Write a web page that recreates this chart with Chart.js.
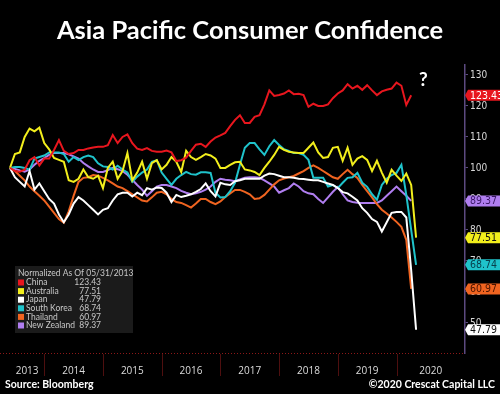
<!DOCTYPE html>
<html>
<head>
<meta charset="utf-8">
<script src="https://cdn.jsdelivr.net/npm/chart.js@4.4.1/dist/chart.umd.min.js"></script>
<style>
  html, body { margin: 0; padding: 0; background: #000; }
  #wrap { width: 500px; height: 394px; position: relative; }
</style>
</head>
<body>
<div id="wrap"><canvas id="chart"></canvas></div>
<script>
// monthly readings, normalized to 100 as of 05/31/2013, first point Jun 2013
const china = [100, 99, 98.8, 99.4, 102.5, 103.5, 100.8, 103, 103, 105.8,
  109, 105.5, 104.5, 104.8, 105.8, 105.8, 106.3, 106.6, 106.8, 106.8,
  107.3, 110.6, 108, 110, 110.8, 108, 106.2, 105.8, 106.4, 105.5,
  105.2, 105.2, 105.6, 105, 102.2, 102.5, 103.3, 105.5, 107.5, 107.8,
  106.8, 108.5, 109.8, 110.5, 111.3, 113.5, 115.5, 117, 114.5, 114.5,
  116.5, 117, 120.5, 125, 123.2, 123.5, 124, 125, 123.8, 123.9,
  123.5, 119.7, 120.7, 120, 120, 120.5, 122.5, 124, 125, 127,
  125.6, 126.5, 125.2, 126.7, 125, 123.5, 124.7, 125.2, 125.6, 127.5,
  126.5, 120.3, 123.43];
const australia = [100, 104.5, 105, 110, 112.7, 111.8, 113, 108, 106, 103.2,
  102.6, 102, 96, 95.5, 96.5, 99.5, 97, 96.5, 97.5, 93.5,
  100, 102, 96.5, 99, 104.8, 96, 98.5, 102, 96.5, 101.5,
  102.5, 99.5, 101, 103.5, 102, 98.7, 105.5, 103.5, 102.6, 103.5,
  104.5, 104, 103, 100, 100, 101, 101.8, 102, 99.5, 99.2,
  98.7, 97.7, 100, 102, 104.2, 106.8, 105.8, 105.2, 105, 104.8,
  104.8, 106.5, 108.2, 105, 103.2, 103.5, 106.5, 106.8, 102.3, 106.5,
  101, 103, 103.8, 102.6, 99, 102.3, 98.5, 95.2, 99.4, 97.5,
  95.8, 98.2, 94.5, 77.51];
const japan = [100, 97, 95.5, 94, 99, 93, 95, 92.5, 90, 88.5,
  85, 82.5, 85, 88.5, 90.6, 89.5, 88, 86.5, 85, 86.5,
  87, 89.5, 91.5, 92, 92, 90.8, 92, 91.2, 93.5, 93,
  93.7, 93.5, 92, 89, 91.3, 90.6, 91, 91.5, 92.3, 93.2,
  95, 92.5, 90.8, 95.2, 94.7, 94.5, 95.7, 96, 96.5, 96.5,
  96.5, 96.5, 97.5, 98.2, 98, 97.5, 97, 97, 96.8, 96.5,
  96.4, 96.2, 96, 96, 95.5, 95, 94.5, 93.5, 92.2, 91.8,
  90.7, 89.5, 87, 85.5, 83.5, 82.6, 79.5, 82.5, 85.5, 85.8,
  85.8, 84, 67, 47.79];
const southKorea = [100, 100.3, 100.3, 100, 99.4, 103, 103.5, 104, 105, 105,
  105, 104.5, 102, 103.5, 102.5, 103.5, 104, 103.5, 101.5, 100.5,
  100.3, 99.5, 100.7, 99.5, 98.5, 95.5, 97.2, 98.5, 99.5, 102,
  102.5, 98.5, 96.5, 94.5, 96.5, 97.7, 98.7, 98, 97.8, 98.6,
  98.6, 98.4, 92, 90.5, 90.6, 92.5, 95.2, 101, 106.5, 108,
  108, 106, 104.2, 107, 109, 107.4, 106, 105.5, 104.8, 104.8,
  104.2, 102.6, 96.8, 96.8, 96.8, 94, 94.5, 93.5, 95.2, 96.8,
  97, 98.4, 95.2, 93.9, 91.5, 89.7, 94.5, 96.5, 97.7, 98.4,
  101, 91.3, 80, 68.74];
const thailand = [100, 99, 97.5, 96, 94, 92.5, 91, 89.5, 87.5, 85.5,
  83.5, 82.3, 86, 91, 95.5, 96.8, 97, 97.7, 97.5, 96.8,
  96, 95, 94, 93.5, 92.5, 91.5, 90.5, 89.5, 89.2, 90.5,
  92, 92.3, 91.5, 90, 89, 88.7, 88, 87.2, 88.5, 90,
  90, 89, 88.3, 89.2, 90.6, 91.8, 92.9, 92.9, 92.3, 91.5,
  90, 90.2, 91.3, 93, 94.7, 96, 96.6, 97, 97.4, 98.2,
  99, 100, 100.8, 100, 99, 98, 97, 96.5, 98, 99.4,
  98, 96.8, 94.5, 92.5, 90.5, 88.3, 86.5, 85.3, 84, 82.6,
  81, 76.8, 60.97];
const newZealand = [100, 99.7, 99.2, 98.8, 99.5, 101, 102.3, 103.2, 104.2, 104.8,
  104.8, 104.8, 104.4, 103.7, 103, 101.6, 100.5, 99.5, 98.7, 98.7,
  99.3, 100, 99.6, 99, 97.8, 96.2, 94.5, 93, 91, 92.5,
  94, 94.5, 94.5, 94, 93.5, 92.6, 92, 91.5, 91.8, 92.3,
  93, 94, 95.5, 96.5, 96.2, 96, 95.7, 96.3, 96.8, 97,
  97, 96.8, 96, 95, 94, 92, 92.8, 93.5, 95, 94,
  92.5, 91.8, 91.5, 90, 88.7, 90.5, 92.3, 93.8, 91.5, 89.5,
  89, 88.8, 88.7, 88.7, 88.7, 88.7, 89.5, 91, 92.5, 94,
  92.5, 91, 89.37];

const seriesNames = ['China', 'Australia', 'Japan', 'South Korea', 'Thailand', 'New Zealand'];
const seriesData = [china, australia, japan, southKorea, thailand, newZealand];
const seriesColors = ['#e8161e', '#f2ee1c', '#ffffff', '#1fc3cb', '#f06420', '#b07ef0'];
const tagText = ['#ffffff', '#111111', '#111111', '#07404c', '#4a1400', '#3a1766'];
const yTicks = [50, 60, 70, 80, 90, 100, 110, 120, 130];
const years = ['2013', '2014', '2015', '2016', '2017', '2018', '2019', '2020'];

// month axis runs Jun 2013 .. Mar 2021
const months = [];
for (let k = 0; k < 94; k++) {
  const m = 5 + k;
  months.push((2013 + Math.floor(m / 12)) + '-' + String(m % 12 + 1).padStart(2, '0'));
}

const narrow = "'Liberation Sans Narrow', 'DejaVu Sans Condensed', 'Liberation Sans', sans-serif";

function drawTag(ctx, x, y, text, bg, fg) {
  const h = 11, w = 40;
  ctx.beginPath();
  ctx.moveTo(x, y);
  ctx.lineTo(x + 3, y - h / 2);
  ctx.lineTo(x + w, y - h / 2);
  ctx.lineTo(x + w, y + h / 2);
  ctx.lineTo(x + 3, y + h / 2);
  ctx.closePath();
  ctx.fillStyle = bg;
  ctx.fill();
  ctx.fillStyle = fg;
  ctx.textAlign = 'left';
  ctx.textBaseline = 'middle';
  ctx.font = '10.5px ' + narrow;
  ctx.fillText(text, x + 5, y + 0.5);
}

const deco = {
  id: 'deco',
  beforeDraw(chart) {
    const ctx = chart.ctx;
    ctx.save();
    ctx.fillStyle = '#000';
    ctx.fillRect(0, 0, chart.width, chart.height);
    ctx.restore();
  },
  afterDraw(chart) {
    const ctx = chart.ctx, area = chart.chartArea;
    const xs = chart.scales.x, ys = chart.scales.y;
    ctx.save();

    // title
    ctx.fillStyle = '#fff';
    ctx.textAlign = 'center';
    ctx.textBaseline = 'middle';
    ctx.font = 'bold 25.5px Lato, sans-serif';
    ctx.fillText('Asia Pacific Consumer Confidence', 250, 31);

    ctx.font = 'bold 19px Lato, sans-serif';
    ctx.fillText('?', xs.getPixelForValue(84.5), ys.getPixelForValue(128.3));

    // bottom dotted rule
    ctx.strokeStyle = '#8c1818';
    ctx.lineWidth = 1;
    ctx.setLineDash([1, 2]);
    ctx.beginPath();
    ctx.moveTo(0, area.bottom + 0.5);
    ctx.lineTo(area.right, area.bottom + 0.5);
    ctx.stroke();
    ctx.setLineDash([]);

    // year separators and labels
    const starts = years.map(y => y === '2013' ? 0 : months.indexOf(y + '-01'));
    ctx.strokeStyle = '#4e0f0f';
    ctx.font = '10px "Open Sans", sans-serif';
    ctx.fillStyle = '#dcdcdc';
    for (let k = 0; k < starts.length; k++) {
      const x0 = xs.getPixelForValue(starts[k]);
      const x1 = k + 1 < starts.length ? xs.getPixelForValue(starts[k + 1]) : area.right;
      if (k > 0) {
        ctx.beginPath();
        ctx.moveTo(Math.round(x0) + 0.5, area.bottom + 1);
        ctx.lineTo(Math.round(x0) + 0.5, area.bottom + 23);
        ctx.stroke();
      }
      ctx.fillText(years[k], (x0 + x1) / 2, area.bottom + 18);
    }

    // legend box
    ctx.fillStyle = '#1b1b1b';
    ctx.fillRect(15, 266, 118, 67);
    ctx.textAlign = 'left';
    ctx.font = '8.5px Lato, sans-serif';
    ctx.fillStyle = '#c8c8c8';
    ctx.fillText('Normalized As Of 05/31/2013', 18, 273.5);
    seriesNames.forEach((name, i) => {
      const y = 282.5 + i * 8.6;
      ctx.fillStyle = seriesColors[i];
      ctx.fillRect(18, y - 3, 6, 6);
      ctx.fillStyle = '#c8c8c8';
      ctx.textAlign = 'left';
      ctx.fillText(name, 26, y);
      ctx.textAlign = 'right';
      const d = seriesData[i];
      ctx.fillText(d[d.length - 1].toFixed(2), 101, y);
    });

    // footer
    ctx.fillStyle = '#fff';
    ctx.font = 'bold 10.5px Lato, sans-serif';
    ctx.textAlign = 'left';
    ctx.fillText('Source: Bloomberg', 5, 385);
    ctx.textAlign = 'right';
    ctx.fillText('\u00A92020 Crescat Capital LLC', 495, 385);

    // last value tags
    seriesData.forEach((d, i) => {
      const v = d[d.length - 1];
      drawTag(ctx, area.right, ys.getPixelForValue(v), v.toFixed(2), seriesColors[i], tagText[i]);
    });
    ctx.restore();
  }
};

new Chart(document.getElementById('chart'), {
  type: 'line',
  data: {
    labels: months,
    datasets: seriesData.map((d, i) => ({
      label: seriesNames[i],
      data: d,
      borderColor: seriesColors[i],
      borderWidth: 2,
      pointRadius: 0,
      tension: 0,
      fill: false
    }))
  },
  options: {
    responsive: true,
    maintainAspectRatio: false,
    animation: false,
    layout: { padding: { left: 10, top: 65, right: 0, bottom: 41 } },
    plugins: { legend: { display: false }, tooltip: { enabled: false } },
    scales: {
      x: { type: 'category', display: false, offset: false },
      y: {
        position: 'right',
        min: 40.3,
        max: 133.2,
        afterFit(s) { s.width = 35; },
        afterBuildTicks(s) { s.ticks = yTicks.map(v => ({ value: v })); },
        grid: { drawOnChartArea: false, drawTicks: true, tickLength: 3, color: '#5c4a80' },
        border: { color: '#5c4a80', width: 1.5 },
        ticks: { color: '#d8d8d8', padding: 2, font: { size: 10, family: narrow } }
      }
    }
  },
  plugins: [deco]
});
</script>
</body>
</html>
